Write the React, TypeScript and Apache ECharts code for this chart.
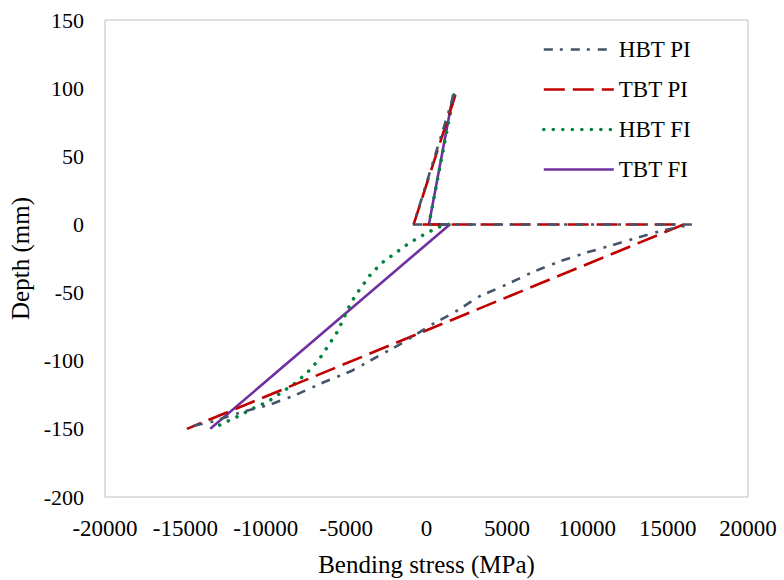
import React, { useEffect, useRef } from "react";
import * as echarts from "echarts";

const seriesNames = ["HBT PI", "TBT PI", "HBT FI", "TBT FI"];
const seriesColors = ["#44546A", "#C00000", "#00843D", "#7030A0"];

// [stress (MPa), depth (mm)]
const hbtPI: number[][] = [
  [1700, 95], [-800, 0], [16500, 0], [14500, -5], [11900, -14], [10000, -20.5],
  [8300, -27], [6600, -35], [5000, -44], [3300, -52.7], [1750, -64.4], [400, -73],
  [-1500, -87], [-3050, -97], [-4680, -107.6], [-6430, -116], [-8110, -125],
  [-9800, -132.5], [-11480, -137.6], [-13400, -145], [-14600, -148], [-14900, -150],
];
const tbtPI: number[][] = [
  [1800, 95], [-800, 0], [16000, 0], [-14900, -150],
];
const hbtFI: number[][] = [
  [1700, 95], [150, 0], [1400, 0], [686, -2.2], [-250, -8], [-1123, -14], [-1934, -21],
  [-2808, -28.5], [-3494, -37], [-4119, -47], [-4680, -57], [-5117, -68],
  [-5554, -79], [-6115, -89], [-6677, -99], [-7363, -108], [-8112, -116],
  [-8986, -123], [-9860, -130], [-10796, -135], [-11669, -140.5], [-12605, -145.7],
  [-13354, -150],
];
const tbtFI: number[][] = [
  [1650, 95], [150, 0], [1450, 0], [-13450, -150],
];

const xTicks = { min: -20000, max: 20000, interval: 5000 };
const yTicks = { min: -200, max: 150, interval: 50 };

const FONT = "Liberation Serif";

export default function App() {
  const ref = useRef<HTMLDivElement>(null);
  useEffect(() => {
    if (!ref.current) return;
    const chart = echarts.init(ref.current, null, { renderer: "svg" });
    const dashes: any[] = [[9, 7, 3, 8], [21, 8], [0.01, 9.5], "solid"];
    const widths = [2.6, 2.6, 3.6, 2.6];
    const caps: any[] = ["butt", "butt", "round", "butt"];
    const datas = [hbtPI, tbtPI, hbtFI, tbtFI];
    chart.setOption({
      animation: false,
      backgroundColor: "#ffffff",
      textStyle: { fontFamily: FONT },
      grid: {
        left: 105, right: 36, top: 20, bottom: 83,
        show: true, borderColor: "#BFBFBF", borderWidth: 1,
        containLabel: false,
        outerBoundsMode: "none",
      },
      legend: {
        orient: "vertical",
        left: 537,
        top: 33,
        itemWidth: 70,
        itemHeight: 14,
        itemGap: 17,
        itemStyle: { opacity: 0 },
        textStyle: { fontFamily: FONT, fontSize: 23, color: "#000" },
        data: seriesNames.map((name, i) => ({
          name,
          lineStyle: { color: seriesColors[i], width: widths[i], type: dashes[i], cap: caps[i] },
        })),
      },
      xAxis: {
        type: "value",
        min: xTicks.min, max: xTicks.max, interval: xTicks.interval,
        axisLine: { show: false, onZero: false },
        axisTick: { show: false },
        splitLine: { show: false },
        axisLabel: {
          fontFamily: FONT, fontSize: 23, color: "#000", margin: 20,
          hideOverlap: false,
          formatter: (v: number) => String(v),
        },
        name: "Bending stress (MPa)",
        nameLocation: "middle",
        nameGap: 55,
        nameTextStyle: { fontFamily: FONT, fontSize: 25, color: "#000" },
      },
      yAxis: {
        type: "value",
        min: yTicks.min, max: yTicks.max, interval: yTicks.interval,
        axisLine: { show: false, onZero: false },
        axisTick: { show: false },
        splitLine: { show: false },
        axisLabel: {
          fontFamily: FONT, fontSize: 22, color: "#000", margin: 21,
          formatter: (v: number) => String(v),
        },
        name: "Depth (mm)",
        nameLocation: "middle",
        nameGap: 70,
        nameRotate: 90,
        nameTextStyle: { fontFamily: FONT, fontSize: 25, color: "#000" },
      },
      series: seriesNames.map((name, i) => ({
        name,
        type: "line",
        data: datas[i],
        symbol: "none",
        smooth: false,
        color: seriesColors[i],
        lineStyle: {
          color: seriesColors[i],
          width: widths[i],
          type: dashes[i],
          cap: caps[i],
        },
        z: 10 - i,
      })),
    });
    return () => chart.dispose();
  }, []);
  return <div ref={ref} style={{ width: 784, height: 580, position: "absolute", left: 0, top: 0 }} />;
}
